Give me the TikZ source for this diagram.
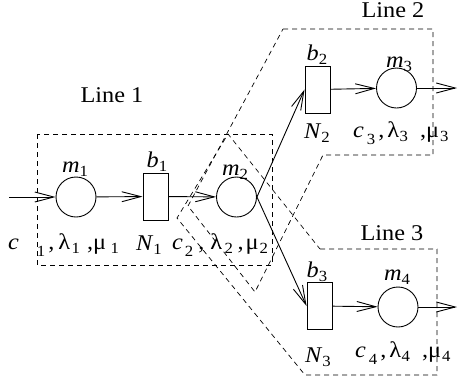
\documentclass[tikz,border=0pt]{standalone}
\usepackage{fontspec}
\setmainfont{Liberation Serif}[FakeStretch=1.08]
\usetikzlibrary{arrows.meta,positioning}
\newcommand{\lsub}[1]{\raisebox{-4pt}{\fontsize{15.5}{16}\selectfont #1}}
\newcommand{\csub}[1]{\raisebox{-7pt}{\fontsize{15.5}{16}\selectfont #1}}

\begin{document}
\begin{tikzpicture}[x=1pt,y=-1pt,
   srv/.style={draw,circle,line width=0.9pt,minimum size=40pt,inner sep=0pt},
   buf/.style={draw,rectangle,line width=0.9pt,minimum width=25pt,minimum height=47pt,inner sep=0pt},
   lbl/.style={font=\fontsize{22.5}{26}\selectfont,inner sep=0pt,anchor=base},
   row/.style={lbl,anchor=base west},
   zone/.style={dash pattern=on 5pt off 4pt,line width=0.7pt},
   flow/.style={line width=0.9pt,-{Straight Barb[length=19pt,width=10pt]}}]
  \useasboundingbox (0,0) rectangle (458,381);
  % queues and machines
  \node[srv] (m1) at (76,197) {};
  \node[buf] (b1) at (155.5,196.5) {};
  \node[srv] (m2) at (236.5,197) {};
  \node[buf] (b2) at (317.5,89.5) {};
  \node[srv] (m3) at (396.5,88) {};
  \node[buf] (b3) at (319.5,306) {};
  \node[srv] (m4) at (398,307) {};
  \coordinate (in1) at (9,197);
  \coordinate (out3) at (457,88);
  \coordinate (out4) at (457,307);
  % labels
  \node[lbl] (m1lab) at (75,172) {\textit{m}\lsub{1}};
  \node[lbl] (b1lab) at (157,167) {\textit{b}\lsub{1}};
  \node[lbl] (m2lab) at (235,175) {\textit{m}\lsub{2}};
  \node[lbl] (b2lab) at (317,60) {\textit{b}\lsub{2}};
  \node[lbl] (m3lab) at (399,67) {\textit{m}\lsub{3}};
  \node[lbl] (b3lab) at (317,277) {\textit{b}\lsub{3}};
  \node[lbl] (m4lab) at (397,280) {\textit{m}\lsub{4}};
  \node[lbl] (n1lab) at (149,250) {\textit{N}\lsub{1}};
  \node[lbl] (n2lab) at (317,138) {\textit{N}\lsub{2}};
  \node[lbl] (n3lab) at (318,362) {\textit{N}\lsub{3}};
  \node[row] (r1lab) at (8,249) {\textit{c}\hspace{18pt}\csub{1}\hspace{3pt},\hspace{4pt}λ\hspace{1.5pt}\lsub{1}\hspace{7pt},μ\hspace{4.5pt}\lsub{1}};
  \node[row] (r2lab) at (172,249) {\textit{c}\hspace{2pt}\csub{2}\hspace{5pt},\hspace{6pt}λ\hspace{2.5pt}\lsub{2}\hspace{4.5pt},\hspace{2pt}μ\hspace{1pt}\lsub{2}};
  \node[row] (r3lab) at (353,137) {\textit{c}\hspace{3pt}\csub{3}\hspace{3pt},\hspace{3pt}λ\hspace{0.5pt}\lsub{3}\hspace{12pt},μ\hspace{1pt}\lsub{3}};
  \node[row] (r4lab) at (355,357) {\textit{c}\hspace{3pt}\csub{4}\hspace{3pt},\hspace{3pt}λ\hspace{0.5pt}\lsub{4}\hspace{12pt},μ\hspace{1pt}\lsub{4}};
  \node[lbl] (line1) at (112,102) {Line 1};
  \node[lbl] (line2) at (393,17) {Line 2};
  \node[lbl] (line3) at (392,240) {Line 3};
  % flows
  \draw[flow] (in1) -- (m1);
  \draw[flow] (m1) -- (b1);
  \draw[flow] (b1) -- (m2);
  \draw[flow] (m2.east) -- (b2.west);
  \draw[flow] (m2.east) -- (b3.west);
  \draw[flow] (b2) -- (m3);
  \draw[flow] (m3) -- (out3);
  \draw[flow] (b3) -- (m4);
  \draw[flow] (m4) -- (out4);
  % line boundaries
  \draw[zone] (37,134) rectangle (272,265);
  \draw[zone] (283,29) -- (433,29) -- (433,155) -- (323,155) -- (255,292) -- (188,206) -- cycle;
  \draw[zone] (320,249) -- (437,249) -- (437,375) -- (305,375) -- (177,218) -- (228,134) -- cycle;
\end{tikzpicture}
\end{document}
